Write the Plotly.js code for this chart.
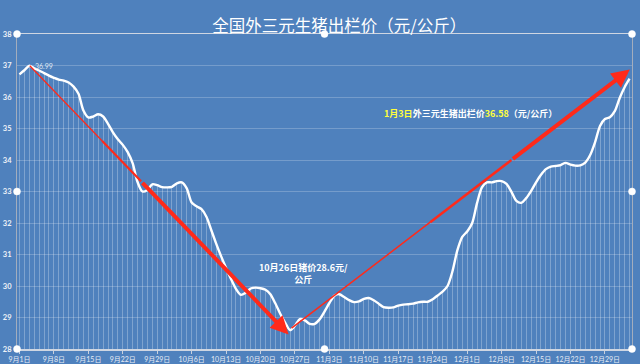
<!DOCTYPE html>
<html>
<head>
<meta charset="utf-8">
<script src="https://cdn.plot.ly/plotly-3.0.1.min.js"></script>
<style>html,body{margin:0;padding:0;background:#4f81bd;}#chart{width:640px;height:364px;}</style>
</head>
<body>
<div id="chart"></div>
<script>
// ---- data ----
const startDate = '2023-09-01';
const titleText = '全国外三元生猪出栏价（元/公斤）';
const prices = [
  36.72, 36.85, 36.99, 36.91, 36.84, 36.76, 36.68, 36.61, 36.55, 36.52,
  36.46, 36.33, 36.10, 35.57, 35.35, 35.38, 35.45, 35.38, 35.15, 34.88,
  34.66, 34.48, 34.25, 33.90, 33.30, 33.00, 33.05, 33.23, 33.20, 33.14,
  33.13, 33.15, 33.26, 33.29, 33.10, 32.65, 32.53, 32.44, 32.20, 31.77,
  31.34, 30.94, 30.57, 30.22, 29.91, 29.72, 29.79, 29.92, 29.95, 29.93,
  29.88, 29.74, 29.45, 29.12, 28.84, 28.60, 28.74, 28.95, 28.91, 28.80,
  28.80, 28.94, 29.19, 29.46, 29.69, 29.74, 29.65, 29.55, 29.49, 29.51,
  29.59, 29.62, 29.55, 29.44, 29.33, 29.31, 29.32, 29.38, 29.41, 29.42,
  29.44, 29.48, 29.50, 29.50, 29.58, 29.70, 29.82, 30.00, 30.46, 31.13,
  31.56, 31.73, 31.99, 32.63, 33.13, 33.29, 33.29, 33.33, 33.33, 33.24,
  32.99, 32.70, 32.64, 32.79, 33.02, 33.29, 33.53, 33.71, 33.79, 33.81,
  33.84, 33.91, 33.85, 33.82, 33.83, 33.92, 34.16, 34.57, 35.08, 35.30,
  35.36, 35.55, 35.97, 36.31, 36.58
];
const peakLabel = '36.99';
const noteLow = '10月26日猪价28.6元/<br>公斤';
const noteHigh = '<span style="color:#ffff3c">1月3日</span>外三元生猪出栏价<span style="color:#ffff3c">36.58</span>（元/公斤）';

// ---- helpers ----
const DAY = 864e5;
const base = Date.parse(startDate + 'T00:00:00Z');
function dstr(d){ return new Date(base + d*DAY).toISOString().slice(0,19).replace('T',' '); }
const dates = prices.map((_, i) => dstr(i));

const nLast = prices.length - 1;
let iPeak = 0, iMin = 0;
prices.forEach((v,i)=>{ if(v>prices[iPeak]) iPeak=i; if(v<prices[iMin]) iMin=i; });

// arrow geometry (in day/value units, anchored on data points)
const a1s = [iPeak + 0.1, prices[iPeak]];
const a1e = [iMin - 0.3, prices[iMin] - 0.14];
const a2s = [iMin + 0.3, prices[iMin] + 0.06];
const a2e = [nLast + 0.05, prices[nLast] + 0.29];
function lerp(a,b,t){ return [a[0]+(b[0]-a[0])*t, a[1]+(b[1]-a[1])*t]; }
function seg(p,q,w){
  return {type:'line', xref:'x', yref:'y', x0:dstr(p[0]), y0:p[1], x1:dstr(q[0]), y1:q[1],
          line:{color:'#ff2a1a', width:w}, layer:'above'};
}
const a1m1 = lerp(a1s,a1e,0.28), a1m2 = lerp(a1s,a1e,0.43);
const a2m1 = lerp(a2s,a2e,0.41), a2m2 = lerp(a2s,a2e,0.65);

const shapes = [
  seg(a1s,a1m1,1.3), seg(a1m1,a1m2,2.2),
  seg(a2s,a2m1,1.5), seg(a2m1,a2m2,2.5)
];
// selection handles
const handles = [[0,1],[0.5,1],[1,1],[0,0.5],[1,0.5],[0,0],[0.5,0],[1,0]];
handles.forEach(h=>{
  shapes.push({type:'circle', xref:'paper', yref:'paper', xsizemode:'pixel', ysizemode:'pixel',
    xanchor:h[0], yanchor:h[1], x0:-3.5, x1:3.5, y0:-3.5, y1:3.5,
    fillcolor:'#ffffff', line:{color:'#ffffff', width:0.5}, layer:'above'});
});

const annotations = [
  {x:dstr(a1e[0]), y:a1e[1], ax:dstr(a1m2[0]), ay:a1m2[1], xref:'x', yref:'y', axref:'x', ayref:'y',
   showarrow:true, arrowhead:2, arrowsize:0.9, arrowwidth:4, arrowcolor:'#ff2a1a', text:'', standoff:0},
  {x:dstr(a2e[0]), y:a2e[1], ax:dstr(a2m2[0]), ay:a2m2[1], xref:'x', yref:'y', axref:'x', ayref:'y',
   showarrow:true, arrowhead:2, arrowsize:0.9, arrowwidth:4, arrowcolor:'#ff2a1a', text:'', standoff:0},
  {x:dates[iPeak], y:prices[iPeak], xref:'x', yref:'y', text:peakLabel, showarrow:false,
   xshift:15, yshift:0, font:{family:'Lato, Liberation Sans', size:7, color:'#dfe7f3'}},
  {x:0.466, y:0.241, xref:'paper', yref:'paper', text:noteLow, showarrow:false,
   xanchor:'center', yanchor:'middle', align:'center',
   font:{family:'Noto Sans CJK SC', size:9, color:'#ffffff', weight:'bold'}},
  {x:0.738, y:0.749, xref:'paper', yref:'paper', text:noteHigh, showarrow:false,
   xanchor:'center', yanchor:'middle',
   font:{family:'Noto Sans CJK SC', size:9, color:'#ffffff', weight:'bold'}}
];

const traces = [
  {type:'bar', x:dates, y:prices, width:DAY*0.2,
   marker:{color:'rgba(255,255,255,0.27)', line:{width:0}}, hoverinfo:'skip'},
  {type:'scatter', mode:'lines', x:dates, y:prices,
   line:{color:'#ffffff', width:2.4, shape:'spline', smoothing:0.8}}
];

const layout = {
  width:640, height:364,
  paper_bgcolor:'#4f81bd', plot_bgcolor:'#4f81bd',
  margin:{l:17, r:8, t:34, b:15},
  showlegend:false,
  bargap:0,
  title:{text:titleText, x:0.53, xref:'container', xanchor:'center', y:0.928, yref:'container', yanchor:'middle',
         font:{family:'Noto Sans CJK SC', size:16.5, color:'#ffffff'}},
  xaxis:{type:'date', range:[dstr(-0.5), dstr(nLast + 0.5)],
         tick0:startDate, dtick:7*DAY, tickformat:'%-m月%-d日',
         ticks:'outside', ticklen:3, tickcolor:'#c9d1de', tickwidth:1,
         showline:true, linecolor:'#cfd6e2', linewidth:1.5, mirror:true,
         showgrid:false, zeroline:false, automargin:false,
         tickfont:{family:'Lato, Noto Sans CJK SC', size:7, color:'#e6ecf5'}},
  yaxis:{range:[28,38], dtick:1, tick0:28,
         showgrid:true, gridcolor:'rgba(255,255,255,0.22)', gridwidth:1,
         showline:true, linecolor:'#a3adbd', linewidth:1, mirror:true,
         zeroline:false, ticks:'', automargin:false, ticklabelstandoff:3,
         tickfont:{family:'Lato, Liberation Sans', size:7.5, color:'#eef2f8', weight:'bold'}},
  shapes:shapes,
  annotations:annotations
};

Plotly.newPlot('chart', traces, layout, {displayModeBar:false, staticPlot:true});
</script>
</body>
</html>
